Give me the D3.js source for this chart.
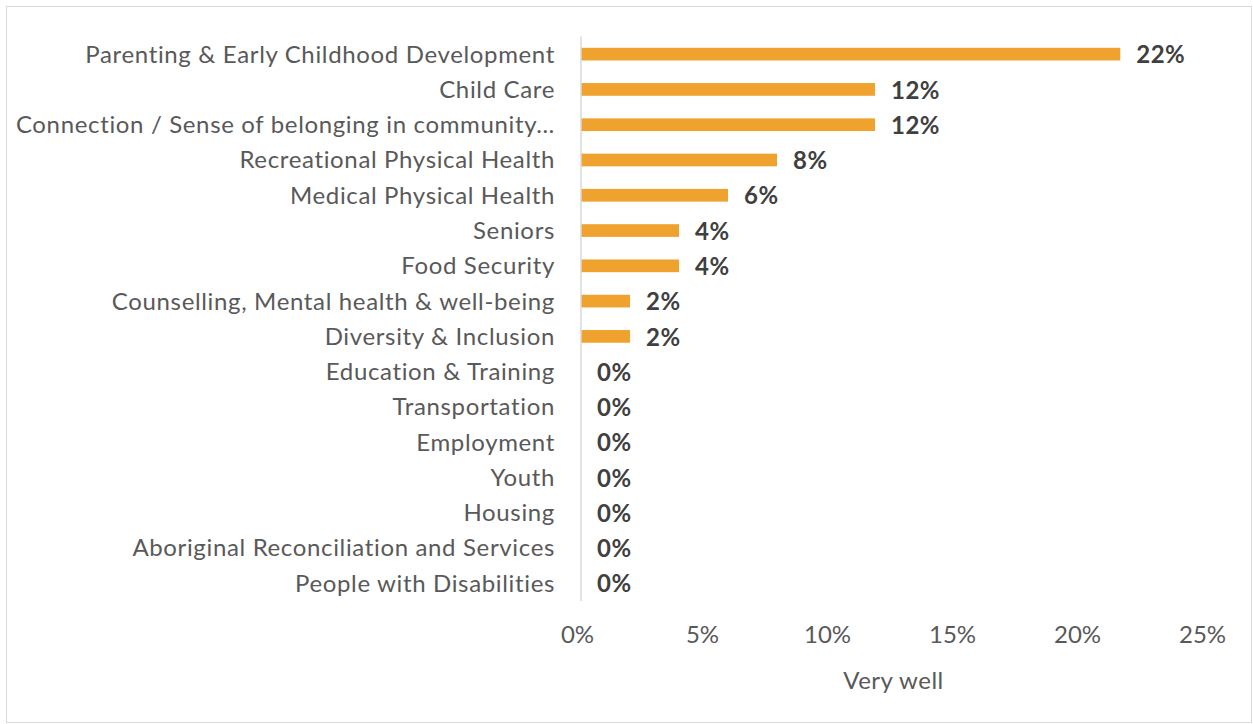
<!DOCTYPE html>
<html>
<head>
<meta charset="utf-8">
<script src="https://cdn.jsdelivr.net/npm/d3@7"></script>
<style>
  body { margin: 0; background: #fff; }
  svg text { font-family: Lato, "Open Sans", sans-serif; font-variant-ligatures: none; }
</style>
</head>
<body>
<div id="chart"></div>
<script>
var categories = [
    "Parenting & Early Childhood Development",
    "Child Care",
    "Connection / Sense of belonging in community…",
    "Recreational Physical Health",
    "Medical Physical Health",
    "Seniors",
    "Food Security",
    "Counselling, Mental health & well-being",
    "Diversity & Inclusion",
    "Education & Training",
    "Transportation",
    "Employment",
    "Youth",
    "Housing",
    "Aboriginal Reconciliation and Services",
    "People with Disabilities"
];
var values = [0.2157, 0.1176, 0.1176, 0.0784, 0.0588, 0.0392, 0.0392, 0.0196, 0.0196, 0, 0, 0, 0, 0, 0, 0];
var xTicks = [0, 0.05, 0.10, 0.15, 0.20, 0.25];
var axisTitle = "Very well";

var w = 1253;
var h = 724;
var plotLeft = 581, plotRight = 1206;
var plotTop = 36.5, plotBottom = 601;

var svg = d3.select("#chart").append("svg")
    .attr("width", w)
    .attr("height", h);

// chart frame
svg.append("rect")
    .attr("x", 6.5).attr("y", 6.5)
    .attr("width", w - 8).attr("height", h - 8)
    .attr("fill", "#fff")
    .attr("stroke", "#d9d9d9");

var xScale = d3.scaleLinear().domain([0, 0.25]).range([plotLeft, plotRight]);
var yScale = d3.scaleBand().domain(categories).range([plotTop, plotBottom]).paddingInner(0.64).paddingOuter(0.32);

var fmt = d3.format(".0%");

// bars
svg.selectAll("rect.bar")
    .data(values)
    .enter()
    .append("rect")
    .attr("class", "bar")
    .attr("x", xScale(0))
    .attr("y", (d, i) => yScale(categories[i]))
    .attr("width", d => xScale(d) - xScale(0))
    .attr("height", yScale.bandwidth())
    .attr("fill", "#f0a22e");

// vertical axis line
svg.append("line")
    .attr("x1", xScale(0)).attr("x2", xScale(0))
    .attr("y1", plotTop).attr("y2", plotBottom)
    .attr("stroke", "#d9d9d9")
    .attr("stroke-width", 1.5);

// category labels
svg.selectAll("text.cat")
    .data(categories)
    .enter()
    .append("text")
    .attr("class", "cat")
    .attr("x", plotLeft - 26)
    .attr("y", d => yScale(d) + yScale.bandwidth() / 2)
    .attr("dy", "0.35em")
    .attr("text-anchor", "end")
    .attr("font-size", "24px")
    .attr("letter-spacing", "0.65px")
    .attr("fill", "#595959")
    .text(d => d);

// data labels
svg.selectAll("text.val")
    .data(values)
    .enter()
    .append("text")
    .attr("class", "val")
    .attr("x", d => xScale(d) + 16)
    .attr("y", (d, i) => yScale(categories[i]) + yScale.bandwidth() / 2)
    .attr("dy", "0.38em")
    .attr("font-size", "24px")
    .attr("letter-spacing", "0.5px")
    .attr("font-weight", "bold")
    .attr("fill", "#404040")
    .text(d => fmt(d));

// x axis ticks
var xAxis = d3.axisBottom(xScale).tickValues(xTicks).tickFormat(fmt).tickSize(0).tickPadding(0);
var gx = svg.append("g")
    .attr("transform", "translate(0," + 626 + ")")
    .call(xAxis);
gx.select(".domain").remove();
gx.selectAll("text")
    .attr("font-size", "24px")
    .attr("fill", "#595959")
    .attr("font-family", "Lato, sans-serif")
    .attr("dx", "-4")
    .attr("dy", "0.71em");

// axis title
svg.append("text")
    .attr("x", (plotLeft + plotRight) / 2)
    .attr("y", 681)
    .attr("dy", "0.35em")
    .attr("text-anchor", "middle")
    .attr("font-size", "24px")
    .attr("letter-spacing", "0.5px")
    .attr("fill", "#595959")
    .text(axisTitle);
</script>
</body>
</html>
